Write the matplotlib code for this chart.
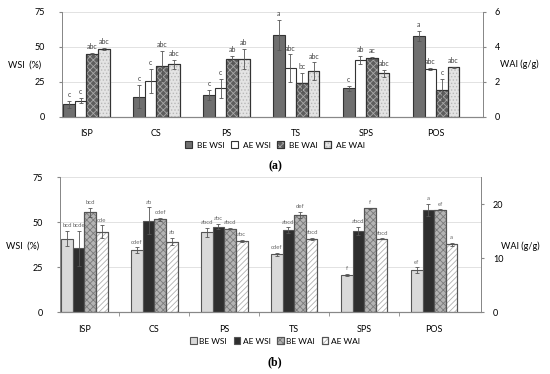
import numpy as np
import matplotlib
matplotlib.use("Agg")
import matplotlib.pyplot as plt
from matplotlib.legend_handler import HandlerTuple

plt.rcParams['font.family'] = ['Lato', 'DejaVu Sans']
plt.rcParams['hatch.linewidth'] = 0.6

cats = ["ISP", "CS", "PS", "TS", "SPS", "POS"]
series = ["BE WSI", "AE WSI", "BE WAI", "AE WAI"]

# panel (a): WSI in %, WAI in g/g
a_wsi = [[9, 14.3, 15.5, 58.3, 20.2, 57.6],      # BE WSI
         [11.5, 25.5, 20.2, 34.5, 40.5, 33.8]]  # AE WSI
a_wsi_err = [[2.5, 8.3, 3.5, 10.7, 2.0, 3.5],
             [2.0, 8.8, 7.0, 10.0, 3.0, 0.8]]
a_wai = [[3.6, 2.9, 3.28, 1.94, 3.35, 1.52],    # BE WAI
         [3.88, 3.0, 3.28, 2.6, 2.48, 2.82]]   # AE WAI
a_wai_err = [[0.03, 0.86, 0.2, 0.55, 0.05, 0.65],
             [0.05, 0.25, 0.58, 0.5, 0.2, 0.03]]
a_letters = [["c", "c", "c", "a", "c", "a"],
             ["c", "c", "c", "abc", "ab", "abc"],
             ["abc", "abc", "ab", "bc", "ac", "c"],
             ["abc", "abc", "ab", "abc", "abc", "abc"]]

# panel (b)
b_wsi = [[40.9, 34.6, 44.6, 32.2, 20.9, 23.5],
         [35.6, 50.9, 47.6, 45.7, 45.2, 56.9]]
b_wsi_err = [[4.2, 1.5, 2.5, 1.0, 0.5, 1.5],
             [9.8, 7.4, 1.5, 1.5, 2.4, 3.3]]
b_wai = [[18.5, 17.2, 15.5, 18.0, 19.3, 18.95],
         [14.9, 13.1, 13.2, 13.6, 13.6, 12.6]]
b_wai_err = [[0.8, 0.25, 0.1, 0.6, 0.1, 0.1],
             [1.2, 0.7, 0.15, 0.2, 0.1, 0.25]]
b_letters = [["bcd", "cdef", "abcd", "cdef", "f", "ef"],
             ["bcde", "ab", "abc", "abcd", "abcd", "a"],
             ["bcd", "cdef", "abcd", "def", "f", "ef"],
             ["cde", "ab", "abc", "abcd", "abcd", "a"]]

a_style = [dict(fc="#6f6f6f", hatch=None, hc=None),
           dict(fc="white", hatch=None, hc=None),
           dict(fc="#5e5e5e", hatch="xxxxx", hc="#a8a8a8"),
           dict(fc="#e4e4e4", hatch=".....", hc="#b8b8b8")]
b_style = [dict(fc="#d9d9d9", hatch=None, hc=None),
           dict(fc="#2e2e2e", hatch=None, hc=None),
           dict(fc="#b4b4b4", hatch="xxxxx", hc="#7a7a7a"),
           dict(fc="white", hatch="//////", hc="#b0b0b0")]

x = np.arange(len(cats))
w = 0.166
offs = (np.arange(4) - 1.5) * w

fig = plt.figure(figsize=(5.5, 3.74), dpi=100)


def panel(rect, wsi, wsi_err, wai, wai_err, letters, style, wai_max, wai_ticks,
          edge, lab_size, lab_color, boundary_ticks):
    ax = fig.add_axes(rect)
    ax2 = ax.twinx()
    vals = [wsi[0], wsi[1], wai[0], wai[1]]
    errs = [wsi_err[0], wsi_err[1], wai_err[0], wai_err[1]]
    handles = []
    for i in range(4):
        a = ax if i < 2 else ax2
        st = style[i]
        base = a.bar(x + offs[i], vals[i], w, color=st["fc"], edgecolor=edge,
                     linewidth=0.8, zorder=2)
        h = base.patches[0]
        if st["hatch"]:
            hb = a.bar(x + offs[i], vals[i], w, fill=False, hatch=st["hatch"],
                       edgecolor=st["hc"], linewidth=0, zorder=3)
            ob = a.bar(x + offs[i], vals[i], w, fill=False, edgecolor=edge,
                       linewidth=0.8, zorder=4)
            h = (base.patches[0], hb.patches[0], ob.patches[0])
        handles.append(h)
        a.errorbar(x + offs[i], vals[i], yerr=errs[i], fmt="none",
                   ecolor="#555555", elinewidth=0.6, capsize=1.5,
                   capthick=0.6, zorder=5)
        for j in range(len(cats)):
            a.annotate(letters[i][j], (x[j] + offs[i], vals[i][j] + errs[i][j]),
                       xytext=(0, 2), textcoords="offset points", ha="center",
                       va="bottom", fontsize=lab_size, color=lab_color)
    ax.set_xlim(-0.35, 5.67)
    ax.set_ylim(0, 75)
    ax.set_yticks([0, 25, 50, 75])
    ax2.set_ylim(0, wai_max)
    ax2.set_yticks(wai_ticks)
    ax.set_xticks(x)
    ax.set_xticklabels(cats)
    ax.tick_params(axis="x", length=0, pad=9, labelsize=6.5)
    ax.tick_params(axis="y", labelsize=6.5, length=2.5, color="#888888", pad=10)
    ax2.tick_params(axis="y", labelsize=6.5, length=2.5, color="#888888", pad=6)
    if boundary_ticks:
        ax.set_xticks(x[:-1] + 0.5, minor=True)
        ax.tick_params(axis="x", which="minor", length=3, color="#888888")
    ax.grid(axis="y", color="#dddddd", linewidth=0.6, zorder=0)
    ax.set_axisbelow(True)
    for a in (ax, ax2):
        a.spines["top"].set_visible(False)
        a.spines["left"].set_color("#888888")
        a.spines["right"].set_color("#888888")
        a.spines["bottom"].set_color("#888888")
        a.spines["left"].set_linewidth(0.7)
        a.spines["right"].set_linewidth(0.7)
    return ax, ax2, handles


overlay = {tuple: HandlerTuple(ndivide=1, pad=0)}

ax, ax2, hs = panel([0.1127, 0.688, 0.7655, 0.2807], a_wsi, a_wsi_err, a_wai,
                    a_wai_err, a_letters, a_style, 6, [0, 2, 4, 6], "#333333",
                    5, "#444444", False)
fig.legend(hs, series, loc="center",
           bbox_to_anchor=(0.5, 1 - 145 / 374), ncol=4, frameon=False,
           fontsize=6, handlelength=0.8, handleheight=0.8, columnspacing=0.8,
           handletextpad=0.6, handler_map=overlay)
fig.text(25 / 550, 1 - 65 / 374, "WSI  (%)", fontsize=6.5, ha="center", va="center")
fig.text(519 / 550, 1 - 64 / 374, "WAI (g/g)", fontsize=6.5, ha="center", va="center")
fig.text(0.5, 1 - 166 / 374, "(a)", fontsize=8.5, family="Liberation Serif",
         weight="bold", ha="center", va="center")

bx, bx2, hb = panel([0.109, 0.165, 0.7655, 0.361], b_wsi, b_wsi_err, b_wai,
                    b_wai_err, b_letters, b_style, 25, [0, 10, 20], "#555555",
                    4.3, "#666666", True)
fig.legend(hb, series, loc="center",
           bbox_to_anchor=(0.5, 1 - 341 / 374), ncol=4, frameon=False,
           fontsize=6, handlelength=0.8, handleheight=0.8, columnspacing=0.8,
           handletextpad=0.3, handler_map=overlay)
fig.text(23 / 550, 1 - 246 / 374, "WSI  (%)", fontsize=6.5, ha="center", va="center")
fig.text(520 / 550, 1 - 246 / 374, "WAI (g/g)", fontsize=6.5, ha="center", va="center")
fig.text(0.5, 1 - 362 / 374, "(b)", fontsize=8.5, family="Liberation Serif",
         weight="bold", ha="center", va="center")

fig.savefig("out.png", dpi=100)
